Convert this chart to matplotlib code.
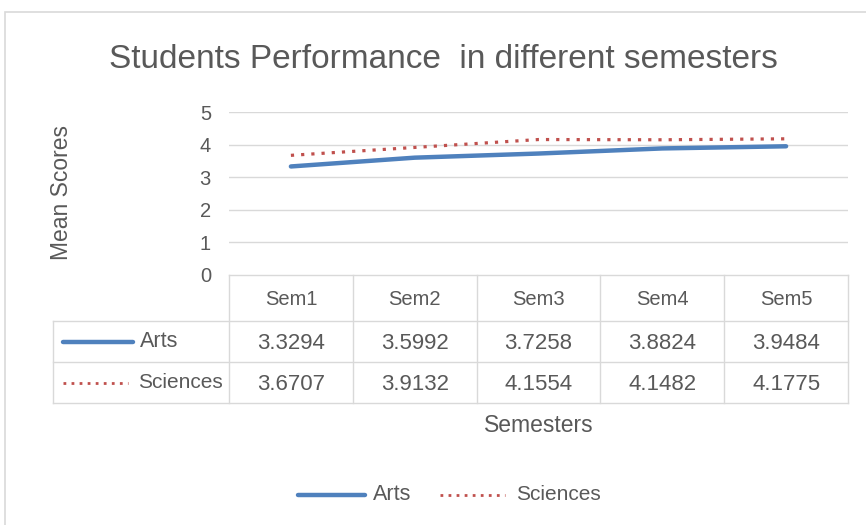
import matplotlib
matplotlib.use("Agg")
import matplotlib.pyplot as plt
from matplotlib.lines import Line2D
from matplotlib.patches import Rectangle

categories = ["Sem1", "Sem2", "Sem3", "Sem4", "Sem5"]
arts = [3.3294, 3.5992, 3.7258, 3.8824, 3.9484]
sciences = [3.6707, 3.9132, 4.1554, 4.1482, 4.1775]
yticks = [0, 1, 2, 3, 4, 5]

TXT = "#595959"
GRID = "#D9D9D9"
BLUE = "#4F81BD"
RED = "#C0504D"
plt.rcParams['font.family'] = ['Liberation Sans', 'DejaVu Sans']

W, H = 866, 525
fig = plt.figure(figsize=(W / 100, H / 100), dpi=100)

def fx(px):
    return px / W

def fy(py):
    return 1 - py / H

# outer chart border
fig.patches.append(Rectangle((fx(5), fy(530)), fx(870) - fx(5), fy(12) - fy(530),
                             transform=fig.transFigure, fill=False, edgecolor=GRID, lw=1.2))

ax = fig.add_axes([fx(229), fy(275), fx(848) - fx(229), fy(112) - fy(275)])
x = list(range(len(categories)))
ax.plot(x, arts, color=BLUE, lw=3.2, solid_capstyle='round', zorder=3)
ax.plot(x, sciences, color=RED, lw=2.3, linestyle=(0, (1, 2.2)), dash_capstyle='butt', zorder=3)
ax.set_xlim(-0.5, len(categories) - 0.5)
ax.set_ylim(0, 5)
ax.set_yticks(yticks)
ax.set_yticklabels([str(t) for t in yticks], fontsize=14.5, color=TXT)
ax.tick_params(axis='y', length=0, pad=13)
ax.set_xticks([])
for s in ax.spines.values():
    s.set_visible(False)
for t in yticks[1:]:
    ax.axhline(t, color=GRID, lw=1, zorder=1)

# data table (axes fraction coordinates)
tr = ax.transAxes
ah = 163.0
left_col = (53 - 229) / 619.0
y_top = 0.0
y_h = -46 / ah
y_a = -87 / ah
y_s = -128 / ah
n = len(categories)
bounds = [i / n for i in range(n + 1)]
kw = dict(color=GRID, lw=1, transform=tr, clip_on=False)
ax.add_line(Line2D([0, 1], [y_top, y_top], **kw))
ax.add_line(Line2D([left_col, 1], [y_h, y_h], **kw))
ax.add_line(Line2D([left_col, 1], [y_a, y_a], **kw))
ax.add_line(Line2D([left_col, 1], [y_s, y_s], **kw))
for b in bounds:
    ax.add_line(Line2D([b, b], [y_top, y_s], **kw))
ax.add_line(Line2D([left_col, left_col], [y_h, y_s], **kw))

for i, c in enumerate(categories):
    cx = (bounds[i] + bounds[i + 1]) / 2
    ax.text(cx, (y_top + y_h) / 2 - 0.01, c, transform=tr, ha='center', va='center', fontsize=14.5, color=TXT)
    ax.text(cx, (y_h + y_a) / 2 - 0.01, f"{arts[i]:.4f}", transform=tr, ha='center', va='center', fontsize=16, color=TXT)
    ax.text(cx, (y_a + y_s) / 2 - 0.01, f"{sciences[i]:.4f}", transform=tr, ha='center', va='center', fontsize=16, color=TXT)

def key(x0, x1, yv, series_color, dotted):
    if dotted:
        ax.add_line(Line2D([x0, x1], [yv, yv], color=series_color, lw=2.0, linestyle=(0, (1, 1.9)),
                           dash_capstyle='butt', transform=tr, clip_on=False))
    else:
        ax.add_line(Line2D([x0, x1], [yv, yv], color=series_color, lw=3.2, solid_capstyle='round',
                           transform=tr, clip_on=False))

ya = (y_h + y_a) / 2
ys = (y_a + y_s) / 2
key((63 - 229) / 619, (133 - 229) / 619, ya, BLUE, False)
ax.text((140 - 229) / 619, ya, "Arts", transform=tr, ha='left', va='center', fontsize=15.5, color=TXT)
key((63 - 229) / 619, (128 - 229) / 619, ys, RED, True)
ax.text((138 - 229) / 619, ys, "Sciences", transform=tr, ha='left', va='center', fontsize=15, color=TXT)

# titles
fig.text(fx(443), fy(59), "Students Performance  in different semesters", ha='center', va='center',
         fontsize=24, color=TXT)
fig.text(fx(62), fy(193), "Mean Scores", rotation=90, ha='center', va='center', fontsize=16.5, color=TXT)
fig.text(fx(539), fy(426), "Semesters", ha='center', va='center', fontsize=16.5, color=TXT)

# bottom legend
fig.add_artist(Line2D([fx(298), fx(365)], [fy(495), fy(495)], color=BLUE, lw=3.2,
                      solid_capstyle='round', transform=fig.transFigure))
fig.text(fx(373), fy(495), "Arts", ha='left', va='center', fontsize=15.5, color=TXT)
fig.add_artist(Line2D([fx(440), fx(505)], [fy(495), fy(495)], color=RED, lw=2.0,
                      linestyle=(0, (1, 1.9)), dash_capstyle='butt', transform=fig.transFigure))
fig.text(fx(516), fy(495), "Sciences", ha='left', va='center', fontsize=15, color=TXT)

fig.savefig("out.png", dpi=100, facecolor='white')
